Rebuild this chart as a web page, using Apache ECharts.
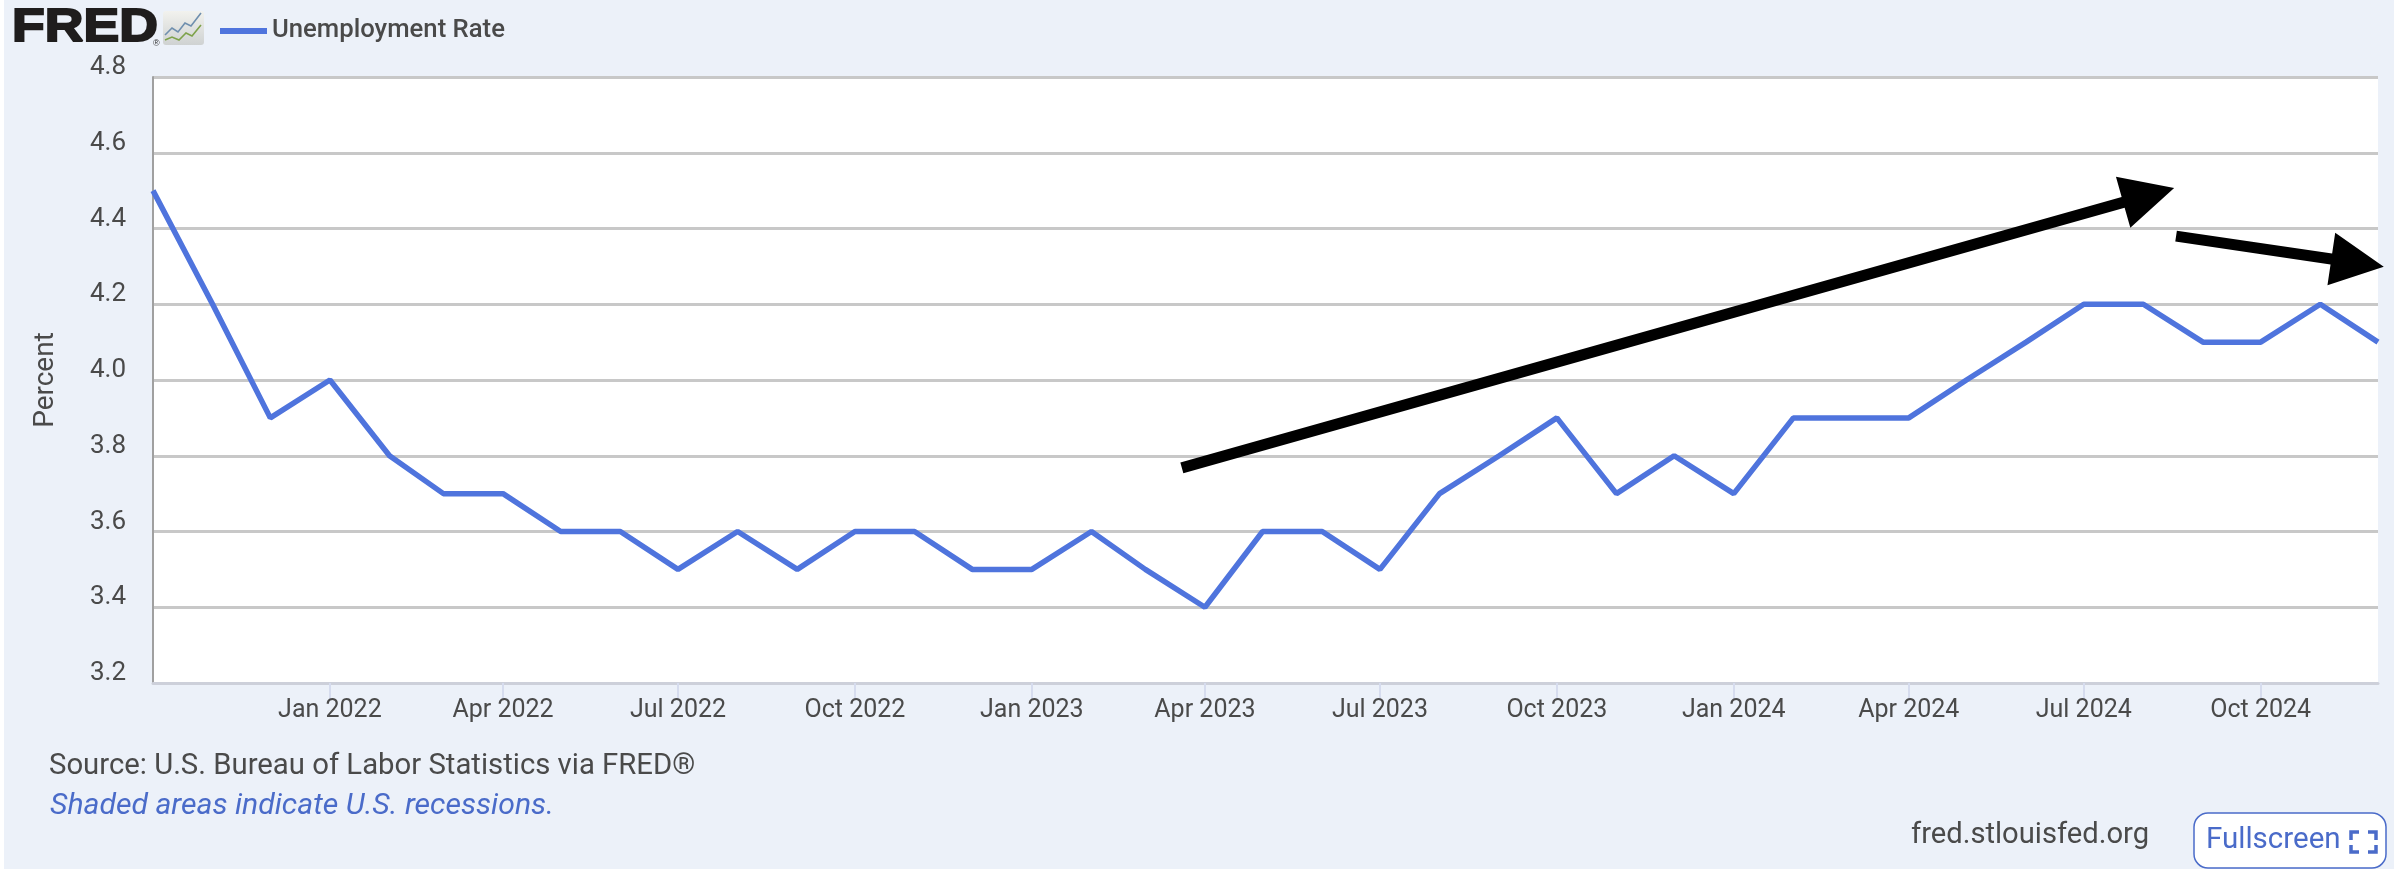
<!DOCTYPE html>
<html>
<head>
<meta charset="utf-8">
<title>Unemployment Rate</title>
<style>
html,body{margin:0;padding:0;background:#fff;}
#chart{position:absolute;left:0;top:0;width:2402px;height:869px;}
</style>
<script src="https://cdn.jsdelivr.net/npm/echarts@6/dist/echarts.min.js"></script>
</head>
<body>
<div id="chart"></div>
<script>
// Monthly unemployment rate, Oct 2021 to Dec 2024
const firstMonth = [2021, 9];
const rates = [
  4.5, 4.2, 3.9,
  4.0, 3.8, 3.7, 3.7, 3.6, 3.6, 3.5, 3.6, 3.5, 3.6, 3.6, 3.5,
  3.5, 3.6, 3.5, 3.4, 3.6, 3.6, 3.5, 3.7, 3.8, 3.9, 3.7, 3.8,
  3.7, 3.9, 3.9, 3.9, 4.0, 4.1, 4.2, 4.2, 4.1, 4.1, 4.2, 4.1
];
const tickDates = [
  '2022-01-01', '2022-04-01', '2022-07-01', '2022-10-01',
  '2023-01-01', '2023-04-01', '2023-07-01', '2023-10-01',
  '2024-01-01', '2024-04-01', '2024-07-01', '2024-10-01'
];
const tickLabels = [
  'Jan 2022', 'Apr 2022', 'Jul 2022', 'Oct 2022',
  'Jan 2023', 'Apr 2023', 'Jul 2023', 'Oct 2023',
  'Jan 2024', 'Apr 2024', 'Jul 2024', 'Oct 2024'
];
// Hand-drawn trend arrows, [tail date, tail value, tip date, tip value]
const trendArrows = [
  ['2023-03-20', 3.768, '2024-08-17', 4.507],
  ['2024-08-18', 4.380, '2024-12-04', 4.299]
];

const BLUE = '#4f74dd';
const TEXT = '#4a4a4a';
const LINK = '#4a6bc9';
const UI_FONT = 'Roboto, "Noto Sans", sans-serif';

const monthly = rates.map((v, i) => [Date.UTC(firstMonth[0], firstMonth[1] + i, 1), v]);
const arrowData = trendArrows.map(a => [Date.parse(a[0]), a[1], Date.parse(a[2]), a[3]]);
const tickTimes = tickDates.map(d => Date.parse(d));

// Shaft plus triangular head, built along the tail-to-tip direction
function renderArrow(params, api) {
  const tail = api.coord([api.value(0), api.value(1)]);
  const tip = api.coord([api.value(2), api.value(3)]);
  const dx = tip[0] - tail[0], dy = tip[1] - tail[1];
  const len = Math.hypot(dx, dy);
  const ux = dx / len, uy = dy / len, nx = -uy, ny = ux;
  const headLen = 53, headHalf = 26.5, shaftHalf = 5.5;
  const bx = tip[0] - ux * headLen, by = tip[1] - uy * headLen;
  return {
    type: 'polygon',
    shape: {
      points: [
        [tail[0] + nx * shaftHalf, tail[1] + ny * shaftHalf],
        [bx + nx * shaftHalf, by + ny * shaftHalf],
        [bx + nx * headHalf, by + ny * headHalf],
        tip,
        [bx - nx * headHalf, by - ny * headHalf],
        [bx - nx * shaftHalf, by - ny * shaftHalf],
        [tail[0] - nx * shaftHalf, tail[1] - ny * shaftHalf]
      ]
    },
    style: { fill: '#000' }
  };
}

const chart = echarts.init(document.getElementById('chart'), null, { renderer: 'canvas' });
chart.setOption({
  animation: false,
  textStyle: { fontFamily: UI_FONT },
  grid: {
    left: 153, right: 24, top: 77, bottom: 186,
    show: true, backgroundColor: '#fff', borderWidth: 0
  },
  legend: {
    data: ['Unemployment Rate'],
    left: 215, top: 13,
    icon: 'rect',
    itemWidth: 47, itemHeight: 6, itemGap: 9,
    textStyle: { fontFamily: UI_FONT, fontSize: 25.7, fontWeight: 500, color: '#4a4a4a' }
  },
  xAxis: {
    // Months are placed on a continuous millisecond scale so their lengths stay true
    type: 'value',
    min: Date.UTC(2021, 9, 1),
    max: Date.UTC(2024, 11, 1),
    axisLine: { show: true, lineStyle: { color: '#cdd0da', width: 3 } },
    axisTick: {
      show: true, length: 16,
      customValues: tickTimes,
      lineStyle: { color: '#d6dcee', width: 2 }
    },
    axisLabel: {
      show: true, margin: 15,
      customValues: tickTimes,
      formatter: value => tickLabels[tickTimes.indexOf(value)],
      fontFamily: UI_FONT, fontSize: 25, color: TEXT
    },
    splitLine: { show: false }
  },
  yAxis: {
    type: 'value',
    min: 3.2, max: 4.8, interval: 0.2,
    name: 'Percent',
    nameLocation: 'middle',
    nameGap: 93,
    nameRotate: 90,
    nameTextStyle: { fontFamily: UI_FONT, fontSize: 28, color: TEXT },
    axisLine: { show: true, lineStyle: { color: '#a0a0a0', width: 2 } },
    axisTick: { show: false },
    axisLabel: {
      margin: 27,
      verticalAlign: 'bottom',
      lineHeight: 19,
      formatter: v => v.toFixed(1),
      fontFamily: UI_FONT, fontSize: 26, color: TEXT
    },
    splitLine: { show: true, lineStyle: { color: '#c8c8c8', width: 3 } }
  },
  series: [
    {
      name: 'Unemployment Rate',
      type: 'line',
      data: monthly,
      symbol: 'none',
      smooth: false,
      lineStyle: { color: BLUE, width: 5.5 },
      itemStyle: { color: BLUE },
      z: 3
    },
    {
      name: 'Trend arrows',
      type: 'custom',
      data: arrowData,
      encode: { x: [0, 2], y: [1, 3] },
      renderItem: renderArrow,
      clip: false,
      silent: true,
      z: 4
    }
  ],
  graphic: [
    // Page panel behind the whole chart
    { type: 'rect', z: -10, silent: true, shape: { x: 4, y: 0, width: 2390, height: 869 }, style: { fill: '#ecf1f9' } },
    // Wordmark
    { type: 'text', x: 12, y: 28, scaleX: 1.14, style: { text: 'FRED', font: 'bold 47px "Liberation Sans", sans-serif', fill: '#1f1d1d', stroke: '#1f1d1d', lineWidth: 2, textVerticalAlign: 'middle' } },
    { type: 'text', x: 153, y: 44, style: { text: '®', font: '9px "Liberation Sans", sans-serif', fill: '#333', textVerticalAlign: 'middle' } },
    // Small logo tile with two trace lines
    {
      type: 'rect', shape: { x: 163, y: 11, width: 41, height: 34, r: 3 },
      style: { fill: { type: 'linear', x: 0, y: 0, x2: 0, y2: 1, colorStops: [{ offset: 0, color: '#f2f2ee' }, { offset: 1, color: '#cfd2d2' }] } }
    },
    { type: 'polyline', shape: { points: [[165, 35], [172, 28], [178, 32], [185, 23], [191, 26], [201, 13]] }, style: { stroke: '#6f8fae', lineWidth: 1.6, fill: null } },
    { type: 'polyline', shape: { points: [[165, 40], [172, 37], [179, 40], [186, 33], [192, 36], [201, 25]] }, style: { stroke: '#7ea24a', lineWidth: 1.6, fill: null } },
    // Footer notes
    { type: 'text', x: 49, y: 767, style: { text: 'Source: U.S. Bureau of Labor Statistics via FRED®', font: '29.3px Roboto, sans-serif', fill: TEXT, textVerticalAlign: 'middle' } },
    { type: 'text', x: 50, y: 806, style: { text: 'Shaded areas indicate U.S. recessions.', font: 'italic 30.2px Roboto, sans-serif', fill: LINK, textVerticalAlign: 'middle' } },
    { type: 'text', x: 1911, y: 836, style: { text: 'fred.stlouisfed.org', font: '29.2px Roboto, sans-serif', fill: TEXT, textVerticalAlign: 'middle' } },
    // Fullscreen button
    { type: 'rect', shape: { x: 2194, y: 813, width: 192, height: 55, r: 14 }, style: { fill: '#fff', stroke: LINK, lineWidth: 1.5 } },
    { type: 'text', x: 2206, y: 841, style: { text: 'Fullscreen', font: '29.5px Roboto, sans-serif', fill: LINK, textVerticalAlign: 'middle' } },
    { type: 'polyline', shape: { points: [[2351, 840], [2351, 832], [2359, 832]] }, style: { stroke: LINK, lineWidth: 3.5, fill: null } },
    { type: 'polyline', shape: { points: [[2368, 832], [2376, 832], [2376, 840]] }, style: { stroke: LINK, lineWidth: 3.5, fill: null } },
    { type: 'polyline', shape: { points: [[2351, 845], [2351, 852], [2359, 852]] }, style: { stroke: LINK, lineWidth: 3.5, fill: null } },
    { type: 'polyline', shape: { points: [[2368, 852], [2376, 852], [2376, 845]] }, style: { stroke: LINK, lineWidth: 3.5, fill: null } }
  ]
});
</script>
</body>
</html>
